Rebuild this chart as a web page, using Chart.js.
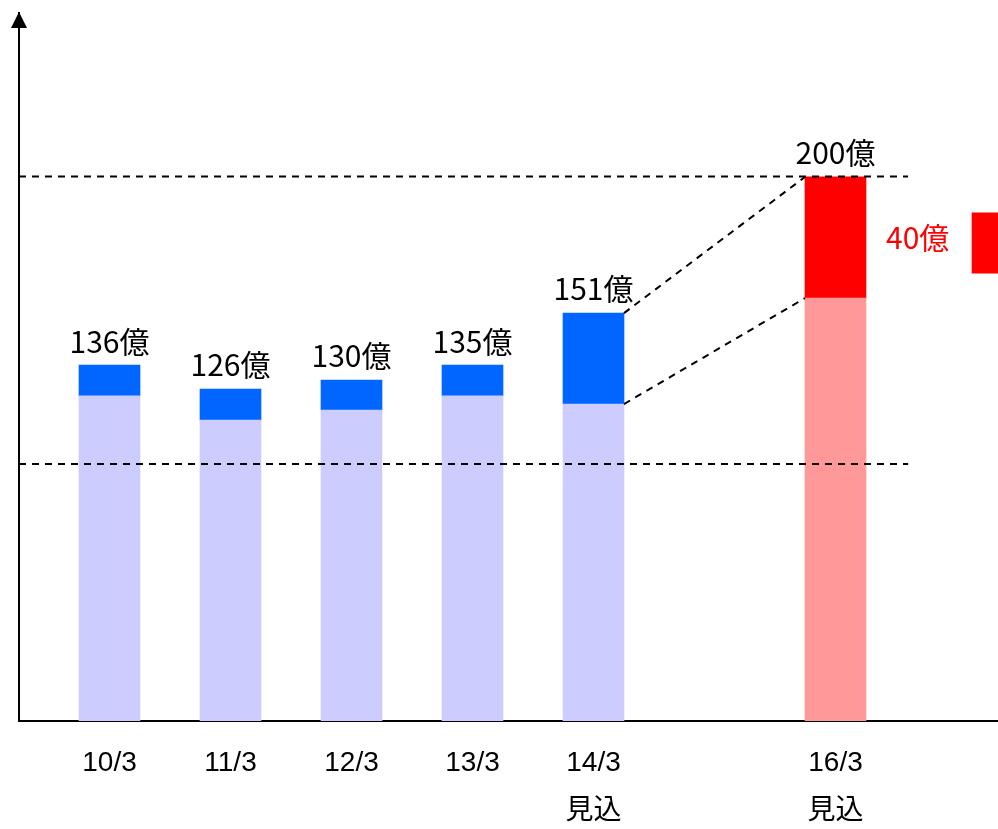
<!DOCTYPE html>
<html><head><meta charset="utf-8">
<script src="https://cdn.jsdelivr.net/npm/chart.js@4"></script>
<style>html,body{margin:0;padding:0;background:#fff;overflow:hidden;}</style>
</head><body>
<canvas id="c" width="998" height="829"></canvas>
<script>
// ---- data ----
const categories = ['10/3', '11/3', '12/3', '13/3', ['14/3', '見込'], ['16/3', '見込']];
const slots = [0, 1, 2, 3, 4, 6];            // index-axis slot of each category (15/3 slot left empty)
const valueLabels = ['136億', '126億', '130億', '135億', '151億', '200億'];
const totalHeights = [130.7, 121.9, 125.2, 130.7, 149.8, 199.8];
const baseHeights  = [119.4, 110.5, 114.2, 119.4, 116.4, 155.3];
const increaseLabel = '40億';
const guideValues = [200, 94.4];
const guideEndSlot = 6.6;
const markerSlot = 7.38;
const markerRange = [164.5, 186.6];
const baseColors = ['#CCCCFF', '#CCCCFF', '#CCCCFF', '#CCCCFF', '#CCCCFF', '#FF9999'];
const topColors  = ['#0066FF', '#0066FF', '#0066FF', '#0066FF', '#0066FF', '#FF0000'];

const labelFont = '30px "Noto Sans CJK JP", "Liberation Sans", sans-serif';

const overlay = {
  id: 'overlay',
  afterDatasetsDraw(chart) {
    const {ctx, chartArea, scales: {x, y}} = chart;
    const top = chart.getDatasetMeta(1).data;
    ctx.save();
    ctx.strokeStyle = '#000';
    ctx.lineWidth = 2;
    ctx.setLineDash([7, 6]);
    const line = (x1, y1, x2, y2) => { ctx.beginPath(); ctx.moveTo(x1, y1); ctx.lineTo(x2, y2); ctx.stroke(); };
    guideValues.forEach(v => {
      const py = y.getPixelForValue(v);
      line(chartArea.left, py, x.getPixelForValue(guideEndSlot), py);
    });
    const a = top[4], b = top[5];
    const ar = a.x + a.width / 2, bl = b.x - b.width / 2;
    line(ar, a.y, bl, b.y);
    line(ar, a.base, bl, b.base);
    ctx.setLineDash([]);
    ctx.font = labelFont;
    ctx.textAlign = 'center';
    ctx.textBaseline = 'middle';
    ctx.fillStyle = '#000';
    top.forEach((bar, i) => ctx.fillText(valueLabels[i], bar.x, bar.y - 24));
    ctx.fillStyle = '#FF0000';
    ctx.textAlign = 'left';
    ctx.fillText(increaseLabel, b.x + b.width / 2 + 20, (b.y + b.base) / 2);
    ctx.restore();
  },
  afterDraw(chart) {
    const {ctx, chartArea} = chart;
    const cx = chartArea.left;
    ctx.save();
    ctx.fillStyle = '#000';
    ctx.beginPath();
    ctx.moveTo(cx, chartArea.top - 1);
    ctx.lineTo(cx - 8, chartArea.top + 15);
    ctx.lineTo(cx + 8, chartArea.top + 15);
    ctx.closePath();
    ctx.fill();
    ctx.restore();
  }
};

new Chart(document.getElementById('c'), {
  type: 'bar',
  data: {
    datasets: [
      {data: slots.map((s, i) => ({x: s, y: [0, baseHeights[i]]})), backgroundColor: baseColors, grouped: false, barThickness: 61},
      {data: slots.map((s, i) => ({x: s, y: [baseHeights[i], totalHeights[i]]})), backgroundColor: topColors, grouped: false, barThickness: 61},
      {data: [{x: markerSlot, y: markerRange}], backgroundColor: '#FF0000', grouped: false, barThickness: 61}
    ]
  },
  options: {
    responsive: false,
    animation: false,
    devicePixelRatio: 1,
    layout: {padding: {left: 0, right: 0, top: 13, bottom: 0}},
    plugins: {legend: {display: false}, tooltip: {enabled: false}},
    scales: {
      x: {
        type: 'linear', min: -0.748, max: 7.343, offset: false,
        grid: {display: false, drawTicks: false, offset: false},
        border: {display: true, color: '#000', width: 2},
        afterBuildTicks: s => { s.ticks = slots.map(v => ({value: v})); },
        afterFit: s => { s.height = 108; },
        ticks: {
          autoSkip: false, maxRotation: 0, minRotation: 0, padding: 18, color: '#000',
          font: {family: '"Liberation Sans", Arial, "Noto Sans CJK JP", sans-serif', size: 28, lineHeight: 48 / 28},
          callback: v => { const i = slots.indexOf(v); return i >= 0 ? categories[i] : ''; }
        }
      },
      y: {
        min: 0, max: 260,
        grid: {display: false, drawTicks: false},
        border: {display: true, color: '#000', width: 2},
        ticks: {display: false},
        afterFit: s => { s.width = 19; }
      }
    }
  },
  plugins: [overlay]
});
</script>
</body></html>
